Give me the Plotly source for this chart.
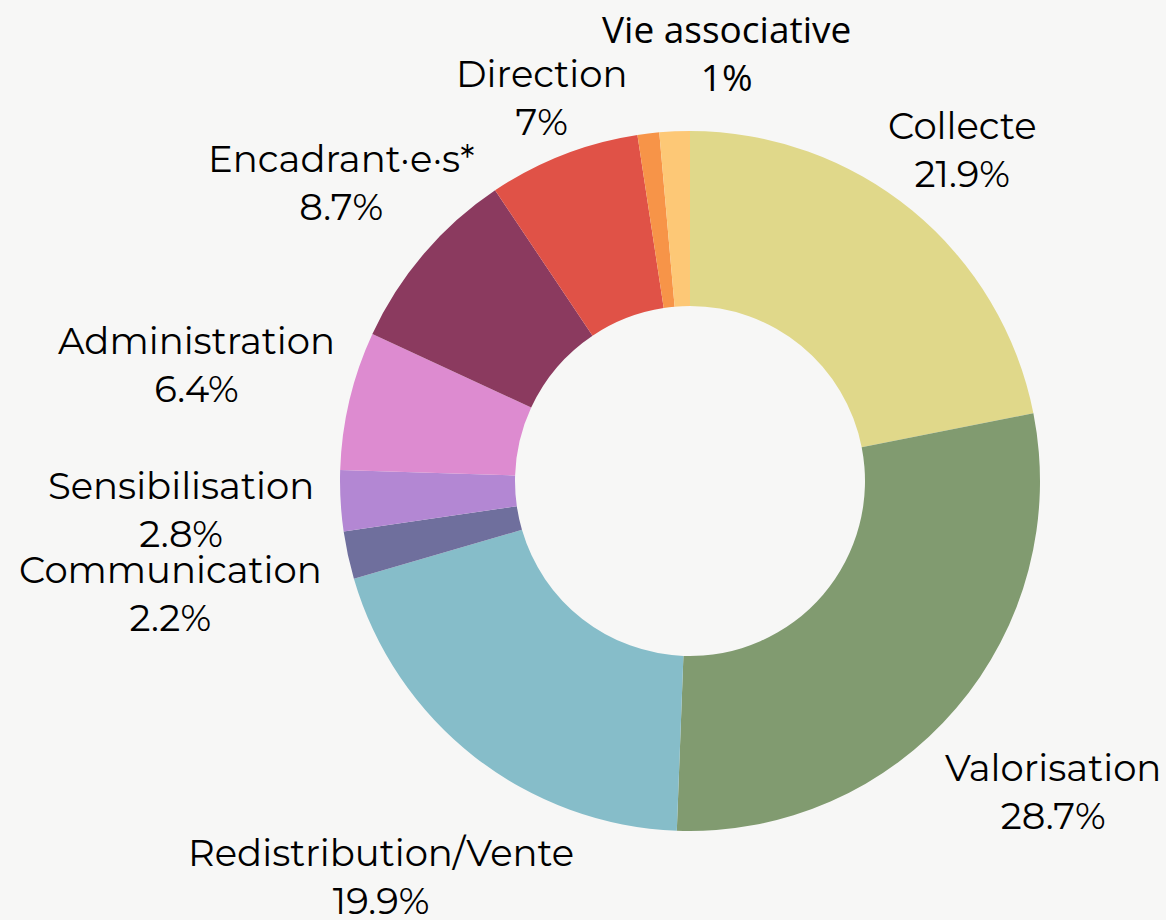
import math
import plotly.graph_objects as go

labels = ["Collecte", "Valorisation", "Redistribution/Vente", "Communication",
          "Sensibilisation", "Administration", "Encadrant·e·s*", "Direction",
          "Vie associative", ""]
values = [21.9, 28.7, 19.9, 2.2, 2.8, 6.4, 8.7, 7, 1, 1.4]
colors = ["#e0d88a", "#819b70", "#86bdc9", "#6f6f9d", "#b387d3", "#dd8bd0",
          "#8b3a5f", "#e05247", "#f79448", "#fdc876"]

# label layout (distance of label centre from pie centre, px) and font per label
label_r = [429, 478, 502, 532, 510, 507, 459, 411, 432, 0]
label_xshift = [0, 0, 0, 0, 0, 0, 0, 0, 88, 0]
MAIN_FONT = "Montserrat, Inter"
label_font = [MAIN_FONT] * 8 + ["Open Sans", "Open Sans"]

W, H = 1166, 920
ML, MR, MT, MB = 340, 126, 131, 89
PW, PH = W - ML - MR, H - MT - MB

fig = go.Figure(go.Pie(
    labels=[l if l else "Autre" for l in labels],
    values=values,
    textinfo="none",
    hole=0.5,
    sort=False,
    direction="clockwise",
    rotation=0,
    marker=dict(colors=colors, line=dict(width=0)),
    showlegend=False,
    automargin=False,
))

total = sum(values)
cum = 0.0
for lab, v, r, xs, fam in zip(labels, values, label_r, label_xshift, label_font):
    mid = (cum + v / 2) / total * 2 * math.pi
    cum += v
    if not lab:
        continue
    dx = r * math.sin(mid)
    dy = r * math.cos(mid)
    fig.add_annotation(
        x=0.5 + dx / PW, y=0.5 + dy / PH, xref="paper", yref="paper",
        text=f"{lab}<br>{v:g}%", showarrow=False,
        xanchor="center", yanchor="middle", align="center", xshift=xs,
        font=dict(family=fam, size=37, color="#000000"),
    )

fig.update_layout(
    width=W, height=H,
    paper_bgcolor="#f7f7f6",
    plot_bgcolor="#f7f7f6",
    margin=dict(l=ML, r=MR, t=MT, b=MB),
)

fig.write_html("out.html", config={"displayModeBar": False},
               post_script="document.body.style.margin='0';")
